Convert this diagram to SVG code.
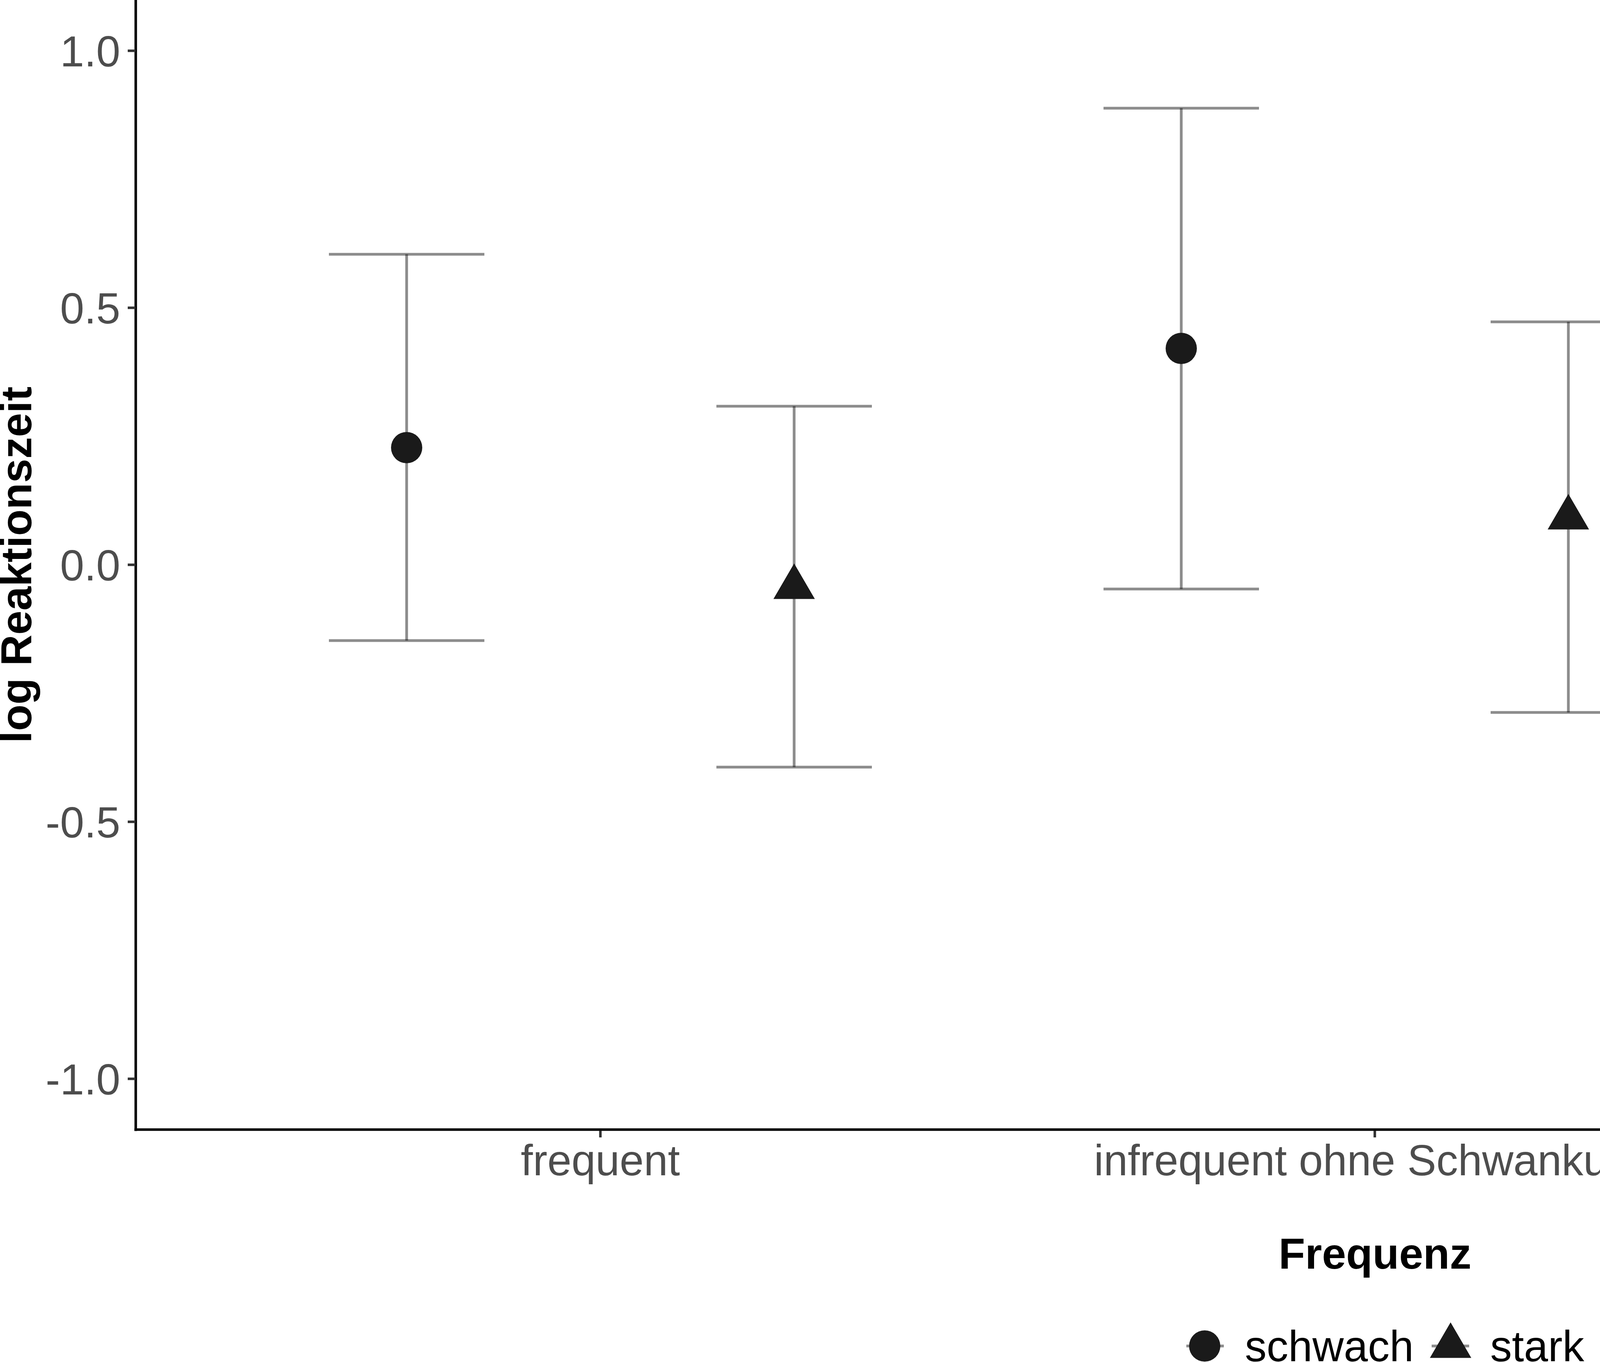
<svg xmlns="http://www.w3.org/2000/svg" width="6693" height="3487" viewBox="0 0 6693 3487">
<style>
text{font-family:"Liberation Sans",Arial,sans-serif;font-size:111px}
.tick{fill:#4d4d4d}
.title{font-weight:bold;fill:#000}
.leg{fill:#000}
.axis{stroke:#000;stroke-width:6.5;fill:none}
.tk{stroke:#333;stroke-width:6.5}
.eb{stroke:#000;stroke-opacity:0.45;stroke-width:7;stroke-linecap:butt}
.pt{fill:#1a1a1a}
</style>
<defs>
<polygon id="tri" points="0,-61 53,30 -53,30"/>
</defs>
<rect width="6693" height="3487" fill="#fff"/>
<g id="axes">
<line class="axis" x1="347.5" y1="0" x2="347.5" y2="2895.5"/>
<line class="axis" x1="344" y1="2892" x2="6693" y2="2892"/>
<g id="yticks">
<line class="tk" x1="327" y1="130" x2="347" y2="130"/>
<line class="tk" x1="327" y1="788" x2="347" y2="788"/>
<line class="tk" x1="327" y1="1446" x2="347" y2="1446"/>
<line class="tk" x1="327" y1="2104" x2="347" y2="2104"/>
<line class="tk" x1="327" y1="2762" x2="347" y2="2762"/>
<text class="tick" x="308" y="170" text-anchor="end">1.0</text>
<text class="tick" x="308" y="828" text-anchor="end">0.5</text>
<text class="tick" x="308" y="1486" text-anchor="end">0.0</text>
<text class="tick" x="308" y="2144" text-anchor="end">-0.5</text>
<text class="tick" x="308" y="2802" text-anchor="end">-1.0</text>
</g>
<g id="xticks">
<line class="tk" x1="1537" y1="2895" x2="1537" y2="2912"/>
<line class="tk" x1="3519.5" y1="2895" x2="3519.5" y2="2912"/>
<line class="tk" x1="5502" y1="2895" x2="5502" y2="2912"/>
<text class="tick" x="1537" y="3009" text-anchor="middle">frequent</text>
<text class="tick" x="3519.5" y="3009" text-anchor="middle">infrequent ohne Schwankung</text>
<text class="tick" x="5502" y="3009" text-anchor="middle">infrequent mit Schwankung</text>
</g>
<text class="title" x="3520" y="3248" text-anchor="middle">Frequenz</text>
<text class="title" transform="translate(80,1446) rotate(-90)" text-anchor="middle">log Reaktionszeit</text>
</g>
<g id="errorbars">
<g id="eb1"><line class="eb" x1="842" y1="651" x2="1240" y2="651"/><line class="eb" x1="1041" y1="651" x2="1041" y2="1640"/><line class="eb" x1="842" y1="1640" x2="1240" y2="1640"/></g>
<g id="eb2"><line class="eb" x1="1834" y1="1040" x2="2232" y2="1040"/><line class="eb" x1="2033" y1="1040" x2="2033" y2="1964"/><line class="eb" x1="1834" y1="1964" x2="2232" y2="1964"/></g>
<g id="eb3"><line class="eb" x1="2825" y1="277" x2="3223" y2="277"/><line class="eb" x1="3024" y1="277" x2="3024" y2="1508"/><line class="eb" x1="2825" y1="1508" x2="3223" y2="1508"/></g>
<g id="eb4"><line class="eb" x1="3816" y1="824" x2="4214" y2="824"/><line class="eb" x1="4015" y1="824" x2="4015" y2="1824"/><line class="eb" x1="3816" y1="1824" x2="4214" y2="1824"/></g>
<g id="eb5"><line class="eb" x1="4808" y1="305" x2="5206" y2="305"/><line class="eb" x1="5007" y1="305" x2="5007" y2="1576"/><line class="eb" x1="4808" y1="1576" x2="5206" y2="1576"/></g>
<g id="eb6"><line class="eb" x1="5799" y1="519" x2="6197" y2="519"/><line class="eb" x1="5998" y1="519" x2="5998" y2="1777"/><line class="eb" x1="5799" y1="1777" x2="6197" y2="1777"/></g>
</g>
<g id="points">
<circle id="p1" class="pt" cx="1041" cy="1146" r="40"/>
<use id="p2" class="pt" href="#tri" x="2033" y="1503.5"/>
<circle id="p3" class="pt" cx="3024" cy="892" r="40"/>
<use id="p4" class="pt" href="#tri" x="4015" y="1325.5"/>
<circle id="p5" class="pt" cx="5007" cy="940" r="40"/>
<use id="p6" class="pt" href="#tri" x="5998" y="1149"/>
</g>
<g id="legend">
<g id="leg-schwach">
<line class="eb" x1="3037" y1="3446" x2="3133" y2="3446"/>
<circle class="pt" cx="3084" cy="3446" r="40"/>
<text class="leg" x="3187" y="3485">schwach</text>
</g>
<g id="leg-stark">
<line class="eb" x1="3665" y1="3446" x2="3761" y2="3446"/>
<use class="pt" href="#tri" x="3713.5" y="3446.5"/>
<text class="leg" x="3815" y="3485">stark</text>
</g>
</g>
</svg>
